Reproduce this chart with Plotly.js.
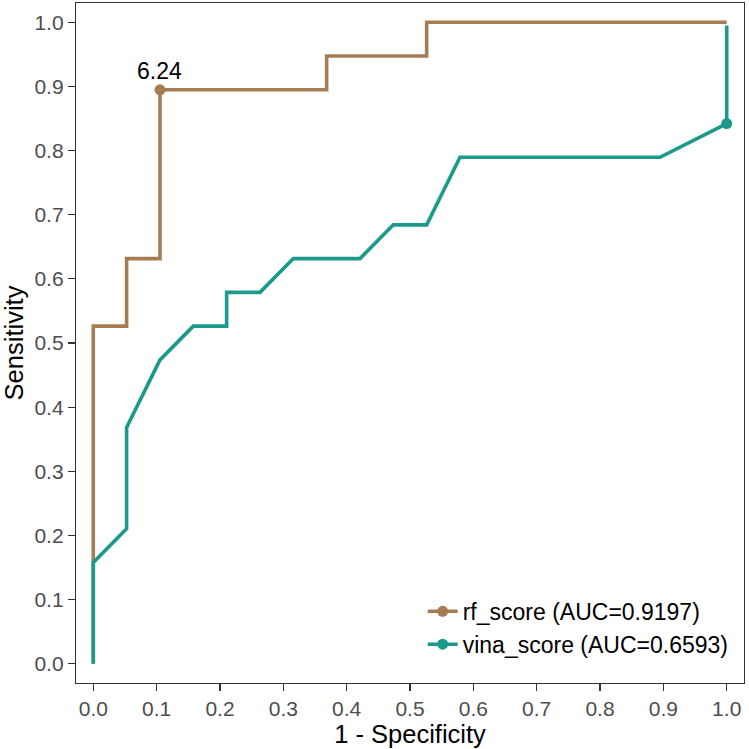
<!DOCTYPE html>
<html>
<head>
<meta charset="utf-8">
<script src="https://cdn.plot.ly/plotly-3.0.1.min.js"></script>
<style>
  html, body { margin: 0; padding: 0; background: #ffffff; }
  #graph { width: 749px; height: 749px; }
</style>
</head>
<body>
<div id="graph"></div>
<script>
// ROC points, 19 positives and 19 negatives
var rfFpr  = [0, 0, 0.0526, 0.0526, 0.1053, 0.1053, 0.3684, 0.3684, 0.5263, 0.5263, 1];
var rfTpr  = [0, 0.5263, 0.5263, 0.6316, 0.6316, 0.8947, 0.8947, 0.9474, 0.9474, 1, 1];
var vinaFpr = [0, 0, 0.0526, 0.0526, 0.1053, 0.1579, 0.2105, 0.2105, 0.2632, 0.3158, 0.4211, 0.4737, 0.5263, 0.5789, 0.8947, 1, 1];
var vinaTpr = [0, 0.1579, 0.2105, 0.3684, 0.4737, 0.5263, 0.5263, 0.5789, 0.5789, 0.6316, 0.6316, 0.6842, 0.6842, 0.7895, 0.7895, 0.8421, 0.995];

// highlighted cut-off points
var rfBestX = [0.1053], rfBestY = [0.8947];
var rfBestLabel = '6.24';
var vinaBestX = [1], vinaBestY = [0.8421];

var names = ['rf_score (AUC=0.9197)', 'vina_score (AUC=0.6593)'];
var colors = ['#A67C52', '#1B9A8B'];

var font = 'Liberation Sans, Arial, sans-serif';
var lw = 3.6;

var data = [
    {x: rfFpr, y: rfTpr, mode: 'lines', line: {color: colors[0], width: lw}, showlegend: false, hoverinfo: 'skip'},
    {x: vinaFpr, y: vinaTpr, mode: 'lines', line: {color: colors[1], width: lw}, showlegend: false, hoverinfo: 'skip'},
    {x: rfBestX, y: rfBestY, mode: 'lines+markers', name: names[0],
     line: {color: colors[0], width: lw}, marker: {color: colors[0], size: 11}},
    {x: vinaBestX, y: vinaBestY, mode: 'lines+markers', name: names[1],
     line: {color: colors[1], width: lw}, marker: {color: colors[1], size: 11}}
];

var axisStyle = {
    showgrid: false,
    zeroline: false,
    showline: true,
    mirror: true,
    linecolor: '#333333',
    linewidth: 1.2,
    ticks: 'outside',
    ticklen: 7,
    tickwidth: 1.2,
    tickcolor: '#333333',
    tickfont: {family: font, size: 21, color: '#4D4D4D'},
    tickmode: 'array',
    tickvals: [0, 0.1, 0.2, 0.3, 0.4, 0.5, 0.6, 0.7, 0.8, 0.9, 1.0],
    ticktext: ['0.0', '0.1', '0.2', '0.3', '0.4', '0.5', '0.6', '0.7', '0.8', '0.9', '1.0']
};

var layout = {
    width: 749,
    height: 749,
    margin: {l: 76, r: 5, t: 3, b: 66},
    paper_bgcolor: '#ffffff',
    plot_bgcolor: '#ffffff',
    font: {family: font, color: '#000000'},
    xaxis: Object.assign({}, axisStyle, {
        range: [-0.0273, 1.0273],
        title: {text: '1 - Specificity', font: {family: font, size: 25.5, color: '#000000'}, standoff: 4}
    }),
    yaxis: Object.assign({}, axisStyle, {
        range: [-0.03, 1.03],
        title: {text: 'Sensitivity', font: {family: font, size: 25.5, color: '#000000'}, standoff: 4}
    }),
    legend: {
        x: 0.519, xanchor: 'left',
        y: 0.137, yanchor: 'top',
        bgcolor: 'rgba(0,0,0,0)',
        font: {family: font, size: 23, color: '#000000'}
    },
    annotations: [{
        x: rfBestX[0], y: rfBestY[0], text: rfBestLabel,
        showarrow: false, yanchor: 'bottom', yshift: 4,
        font: {family: font, size: 23, color: '#000000'}
    }]
};

Plotly.newPlot('graph', data, layout, {staticPlot: true});
</script>
</body>
</html>
